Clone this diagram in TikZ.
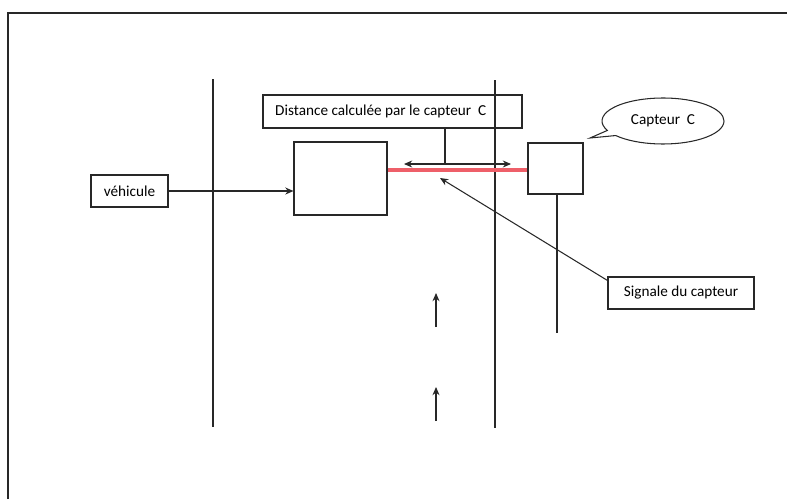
\documentclass[tikz,border=0pt]{standalone}
\usepackage{fontspec}
\setmainfont{Carlito}
\usetikzlibrary{arrows.meta,shapes.callouts}
\definecolor{ink}{RGB}{40,40,40}
\definecolor{redline}{RGB}{238,95,105}
\begin{document}
\begin{tikzpicture}[x=0.03cm,y=-0.03cm,
  ln/.style={draw=ink,line width=0.9pt},
  txt/.style={font=\fontsize{13}{15}\selectfont},
  box/.style={draw=ink,line width=0.9pt,inner sep=0pt,txt},
  tip/.style={Stealth[length=7pt,width=6pt]},
  arr/.style={ln,-{Stealth[length=7pt,width=6pt]}}]
\useasboundingbox (0,0) rectangle (787,499);
% frame
\draw[ln] (8,499) -- (8,13) -- (787,13);
% road lines
\draw[ln] (213,79) -- (213,427);
\draw[ln] (495,80) -- (495,428);
% vehicle box
\node[box,minimum width=93*0.03cm,minimum height=73*0.03cm] (veh) at (340.5,178.5) {};
% sensor box
\node[box,minimum width=55*0.03cm,minimum height=51*0.03cm] (sens) at (555.5,168.5) {};
\coordinate (poleend) at (557,333);
\draw[ln] (sens.south -| poleend) -- (poleend);
% red line
\draw[draw=redline,line width=3.2pt] (veh.east |- 0,170) -- (sens.west |- 0,170);
% label distance
\node[box,minimum width=259*0.03cm,minimum height=33*0.03cm] (dist) at (392.5,111.5) {};
\node[txt,anchor=west,inner sep=0pt] (disttxt) at (275,111) {Distance calculée par le capteur\ \ C};
% double arrow
\coordinate (dl) at (404,164);
\coordinate (dr) at (511,164);
\draw[ln,{Stealth[length=7pt,width=6pt]}-{Stealth[length=7pt,width=6pt]}] (dl) -- (dr);
\coordinate (dm) at (445,164);
\draw[ln] (dist.south -| dm) -- (dm);
% callout
\node[ellipse callout,draw=ink,line width=0.9pt,minimum width=122*0.03cm,minimum height=46*0.03cm,
  inner sep=0pt,callout absolute pointer={(590,138)},txt] (call) at (663,121) {Capteur\ \ C};
% vehicule
\node[box,minimum width=77*0.03cm,minimum height=32*0.03cm] (vtxt) at (129.5,191) {véhicule};
\draw[arr] (vtxt.east) -- (veh.west |- vtxt.east);
% signal
\node[box,minimum width=146*0.03cm,minimum height=32*0.03cm] (sig) at (681,293) {Signale du capteur};
\coordinate (sigtip) at (440,178);
\path (sig.north west) ++(0,4) coordinate (sigstart);
\draw[arr] (sigstart) -- (sigtip);
% up arrows
\coordinate (u1a) at (436,327); \coordinate (u1b) at (436,293);
\coordinate (u2a) at (436,421); \coordinate (u2b) at (436,387);
\draw[arr] (u1a) -- (u1b);
\draw[arr] (u2a) -- (u2b);
\end{tikzpicture}
\end{document}
